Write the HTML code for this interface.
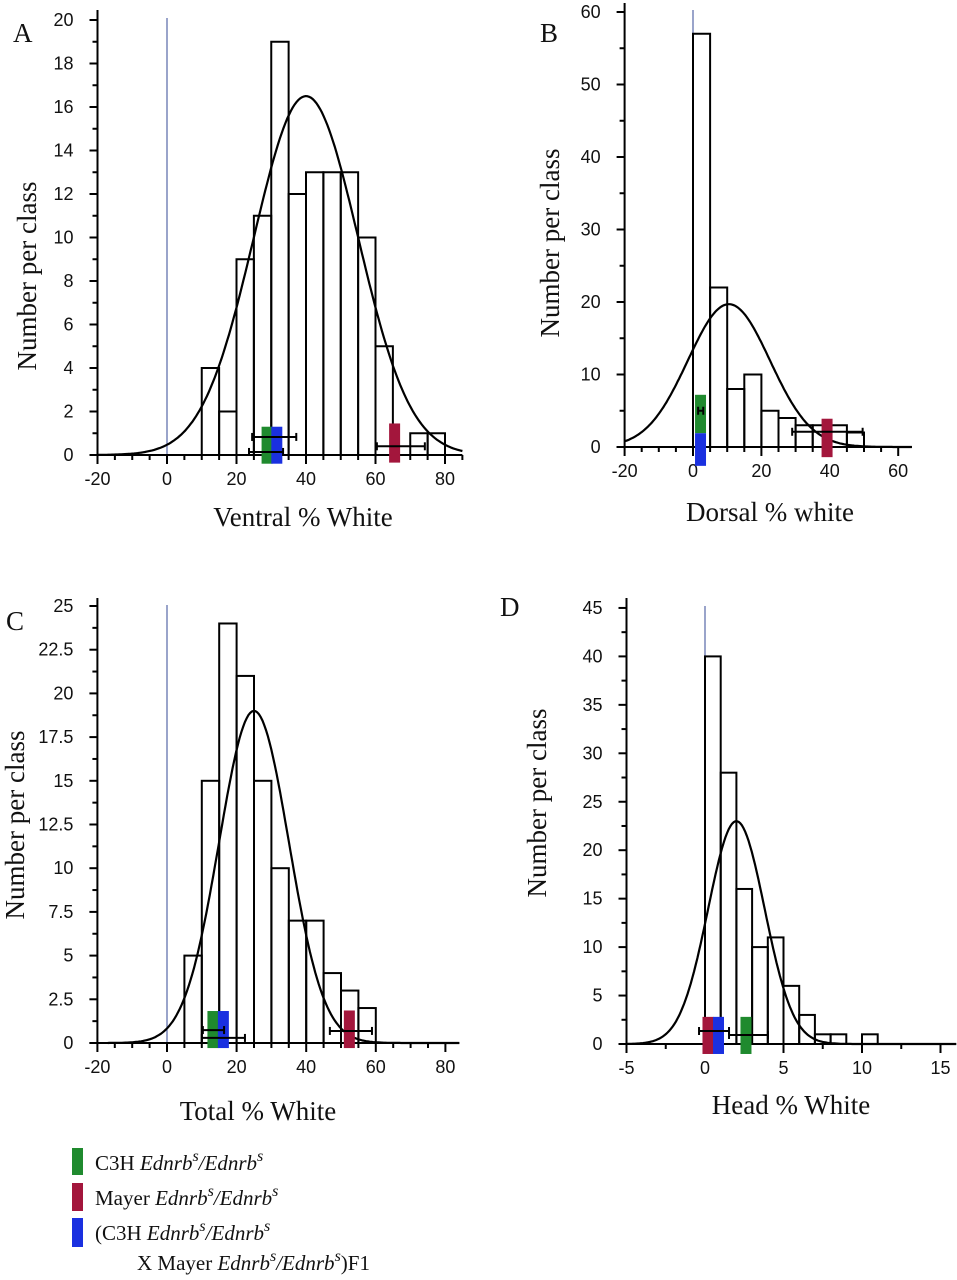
<!DOCTYPE html>
<html><head><meta charset="utf-8">
<style>
html,body{margin:0;padding:0;background:#fff;}
body{width:957px;height:1280px;overflow:hidden;position:relative;}
svg{position:absolute;left:0;top:0;}
.tk{font-family:"Liberation Sans",Arial,sans-serif;font-size:18px;fill:#111;}
.tt{font-family:"Liberation Serif","Times New Roman",serif;font-size:27px;fill:#111;}
.lg{font-family:"Liberation Serif","Times New Roman",serif;font-size:21px;fill:#111;}
</style></head>
<body>
<svg id="fig" width="957" height="1280" viewBox="0 0 957 1280">
  <text class="tt" x="13" y="42">A</text>
  <text class="tt" x="540" y="42">B</text>
  <text class="tt" x="6" y="630">C</text>
  <text class="tt" x="500" y="616">D</text>

  <text class="tt" x="303" y="526" text-anchor="middle">Ventral % White</text>
  <text class="tt" x="770" y="521" text-anchor="middle">Dorsal % white</text>
  <text class="tt" x="258" y="1120" text-anchor="middle">Total % White</text>
  <text class="tt" x="791" y="1114" text-anchor="middle">Head % White</text>

  <text class="tt" transform="translate(36,276) rotate(-90)" text-anchor="middle">Number per class</text>
  <text class="tt" transform="translate(559,243) rotate(-90)" text-anchor="middle">Number per class</text>
  <text class="tt" transform="translate(24,825) rotate(-90)" text-anchor="middle">Number per class</text>
  <text class="tt" transform="translate(546,803) rotate(-90)" text-anchor="middle">Number per class</text>

  <g>
    <rect x="72" y="1148" width="11" height="27" fill="#1f8a2e"/>
    <text class="lg" x="95" y="1170">C3H <tspan font-style="italic">Ednrb</tspan><tspan font-style="italic" font-size="16" dy="-9">s</tspan><tspan font-style="italic" dy="9">/Ednrb</tspan><tspan font-style="italic" font-size="16" dy="-9">s</tspan></text>
    <rect x="72" y="1183" width="11" height="28" fill="#a3163c"/>
    <text class="lg" x="95" y="1205">Mayer <tspan font-style="italic">Ednrb</tspan><tspan font-style="italic" font-size="16" dy="-9">s</tspan><tspan font-style="italic" dy="9">/Ednrb</tspan><tspan font-style="italic" font-size="16" dy="-9">s</tspan></text>
    <rect x="72" y="1218" width="11" height="29" fill="#1a30e0"/>
    <text class="lg" x="95" y="1240">(C3H <tspan font-style="italic">Ednrb</tspan><tspan font-style="italic" font-size="16" dy="-9">s</tspan><tspan font-style="italic" dy="9">/Ednrb</tspan><tspan font-style="italic" font-size="16" dy="-9">s</tspan></text>
    <text class="lg" x="137" y="1270">X Mayer <tspan font-style="italic">Ednrb</tspan><tspan font-style="italic" font-size="16" dy="-9">s</tspan><tspan font-style="italic" dy="9">/Ednrb</tspan><tspan font-style="italic" font-size="16" dy="-9">s</tspan><tspan dy="9">)F1</tspan></text>
  </g>
</svg>
<script>
// Panel A data
const aBinStart = 10, aBinWidth = 5;
const aCounts = [4, 2, 9, 11, 19, 12, 13, 13, 13, 10, 5, 0, 1, 1];
const aYTicks = [0,2,4,6,8,10,12,14,16,18,20];
const aXTicks = [-20,0,20,40,60,80];
const aCurve = [40, 15, 16.5]; // mean, sd, peak
// Panel B data
const bBinStart = 0, bBinWidth = 5;
const bCounts = [57, 22, 8, 10, 5, 4, 3, 3, 3, 2];
const bYTicks = [0,10,20,30,40,50,60];
const bXTicks = [-20,0,20,40,60];
const bCurve = [10.5, 12, 19.7];
// Panel C data
const cBinStart = 5, cBinWidth = 5;
const cCounts = [5, 15, 24, 21, 15, 10, 7, 7, 4, 3, 2];
const cYTicks = [0,2.5,5,7.5,10,12.5,15,17.5,20,22.5,25];
const cXTicks = [-20,0,20,40,60,80];
const cCurve = [25, 10, 19];
// Panel D data
const dBinStart = 0, dBinWidth = 1;
const dCounts = [40, 28, 16, 10, 11, 6, 3, 1, 1, 0, 1];
const dYTicks = [0,5,10,15,20,25,30,35,40,45];
const dXTicks = [-5,0,5,10,15];
const dCurve = [2, 1.8, 23];
// strain markers: [center x value, bottom value, top value]
const aMarkGreen = [28.8, -0.4, 1.3], aMarkBlue = [31.6, -0.4, 1.3], aMarkRed = [65.5, -0.35, 1.45];
const bMarkGreen = [2.2, 1.9, 7.2], bMarkBlue = [2.2, -2.6, 1.9], bMarkRed = [39.2, -1.4, 3.9];
const cMarkGreen = [13.2, -0.29, 1.83], cMarkBlue = [16.2, -0.29, 1.83], cMarkRed = [52.4, -0.29, 1.86];
const dMarkRed = [0.19, -1.03, 2.8], dMarkBlue = [0.86, -1.03, 2.8], dMarkGreen = [2.61, -1.03, 2.8];
// error bars: [y value, low, high]
const aErr = [[0.83, 24.5, 37.2], [0.14, 23.6, 33.4], [0.4, 60.4, 74.2]];
const bErr = [[2.1, 29, 49.6], [5, 1.5, 3]];
const cErr = [[0.74, 10.3, 16.4], [0.29, 10, 22.4], [0.69, 46.8, 58.9]];
const dErr = [[1.34, -0.38, 1.53], [0.93, 1.53, 4.01]];

const NS = 'http://www.w3.org/2000/svg';
const svg = document.getElementById('fig');
function mk(tag, attrs, parent){
  const e = document.createElementNS(NS, tag);
  for (const k in attrs) e.setAttribute(k, attrs[k]);
  (parent||svg).appendChild(e);
  return e;
}
const GREEN='#1f8a2e', RED='#a3163c', BLUE='#1a30e0';

function panel(id, cfg){
  const g = mk('g', {});
  
  
  const X = v => cfg.x0 + v * cfg.kx;
  const Y = v => cfg.y0 - v * cfg.ky;
  const zl = mk('line', {x1:X(0), x2:X(0), y1:cfg.zeroTop, y2:Y(0), stroke:'#5868a8', 'stroke-width':1.2}, g);
  
  
  cfg.counts.forEach((c, i) => {
    if (c <= 0) return;
    const xa = X(cfg.binStart + i*cfg.binWidth), xb = X(cfg.binStart + (i+1)*cfg.binWidth);
    const r = mk('rect', {x:xa, y:Y(c), width:xb-xa, height:Y(0)-Y(c), fill:'none', stroke:'#000', 'stroke-width':2}, g);
    
    
  });
  const [mu, sd, pk] = cfg.curve;
  let d = '';
  for (let k = 0; k <= 200; k++){
    const v = cfg.curveFrom + (cfg.xMax - cfg.curveFrom) * k / 200;
    const yv = pk * Math.exp(-((v-mu)*(v-mu))/(2*sd*sd));
    d += (k ? 'L' : 'M') + X(v).toFixed(1) + ',' + Y(yv).toFixed(1);
  }
  const cp = mk('path', {d:d, fill:'none', stroke:'#000', 'stroke-width':2.2}, g);
  
  
  const ya = mk('line', {x1:X(cfg.xMin), x2:X(cfg.xMin), y1:cfg.axisTop, y2:Y(0)+1, stroke:'#000', 'stroke-width':2}, g);
  
  
  const xa = mk('line', {x1:X(cfg.xMin)-8, x2:X(cfg.xMax), y1:Y(0), y2:Y(0), stroke:'#000', 'stroke-width':2}, g);
  
  
  const ax = X(cfg.xMin);
  cfg.yTicks.forEach((t, i) => {
    mk('line', {x1:ax-8, x2:ax, y1:Y(t), y2:Y(t), stroke:'#000', 'stroke-width':2}, g);
    if (i < cfg.yTicks.length-1){
      const m = (t + cfg.yTicks[i+1]) / 2;
      mk('line', {x1:ax-5, x2:ax, y1:Y(m), y2:Y(m), stroke:'#000', 'stroke-width':2}, g);
    }
    const tl = mk('text', {x:ax-24, y:Y(t)+6, 'text-anchor':'end', class:'tk'}, g);
    tl.textContent = String(t);
    
    
  });
  for (let v = cfg.xTicks[0]; v <= cfg.xMax + 0.001; v += cfg.xMinor){
    const major = cfg.xTicks.some(t => Math.abs(t - v) < 1e-6);
    mk('line', {x1:X(v), x2:X(v), y1:Y(0), y2:Y(0)+(major?9:5), stroke:'#000', 'stroke-width':2}, g);
  }
  cfg.xTicks.forEach(t => {
    const tl = mk('text', {x:X(t), y:Y(0)+30, 'text-anchor':'middle', class:'tk'}, g);
    tl.textContent = String(t);
    
    
  });
  cfg.marks.forEach(([m, col, name]) => {
    const r = mk('rect', {x:X(m[0])-5.5, y:Y(m[2]), width:11, height:Y(m[1])-Y(m[2]), fill:col}, g);
    
    
  });
  cfg.err.forEach(e => {
    const eg = mk('g', {}, g);
    
    
    mk('line', {x1:X(e[1]), x2:X(e[2]), y1:Y(e[0]), y2:Y(e[0]), stroke:'#000', 'stroke-width':2}, eg);
    mk('line', {x1:X(e[1]), x2:X(e[1]), y1:Y(e[0])-4, y2:Y(e[0])+4, stroke:'#000', 'stroke-width':2}, eg);
    mk('line', {x1:X(e[2]), x2:X(e[2]), y1:Y(e[0])-4, y2:Y(e[0])+4, stroke:'#000', 'stroke-width':2}, eg);
  });
}

panel('a', {x0:167, kx:3.475, y0:455, ky:21.75, xMin:-20, xMax:85, curveFrom:-20, axisTop:10, zeroTop:18,
  counts:aCounts, binStart:aBinStart, binWidth:aBinWidth, yTicks:aYTicks, xTicks:aXTicks, xMinor:5, curve:aCurve,
  marks:[[aMarkGreen,GREEN,'marker-c3h'],[aMarkBlue,BLUE,'marker-f1'],[aMarkRed,RED,'marker-mayer']], err:aErr});
panel('b', {x0:693, kx:3.42, y0:447, ky:7.25, xMin:-20, xMax:64, curveFrom:-20, axisTop:3, zeroTop:10,
  counts:bCounts, binStart:bBinStart, binWidth:bBinWidth, yTicks:bYTicks, xTicks:bXTicks, xMinor:5, curve:bCurve,
  marks:[[bMarkGreen,GREEN,'marker-c3h'],[bMarkBlue,BLUE,'marker-f1'],[bMarkRed,RED,'marker-mayer']], err:bErr});
panel('c', {x0:167, kx:3.48, y0:1043, ky:17.48, xMin:-20, xMax:84, curveFrom:-17, axisTop:598, zeroTop:605,
  counts:cCounts, binStart:cBinStart, binWidth:cBinWidth, yTicks:cYTicks, xTicks:cXTicks, xMinor:5, curve:cCurve,
  marks:[[cMarkGreen,GREEN,'marker-c3h'],[cMarkBlue,BLUE,'marker-f1'],[cMarkRed,RED,'marker-mayer']], err:cErr});
panel('d', {x0:705, kx:15.7, y0:1044, ky:9.69, xMin:-5, xMax:16, curveFrom:-5, axisTop:598, zeroTop:606,
  counts:dCounts, binStart:dBinStart, binWidth:dBinWidth, yTicks:dYTicks, xTicks:dXTicks, xMinor:2.5, curve:dCurve,
  marks:[[dMarkRed,RED,'marker-mayer'],[dMarkBlue,BLUE,'marker-f1'],[dMarkGreen,GREEN,'marker-c3h']], err:dErr});
</script>
</body></html>
